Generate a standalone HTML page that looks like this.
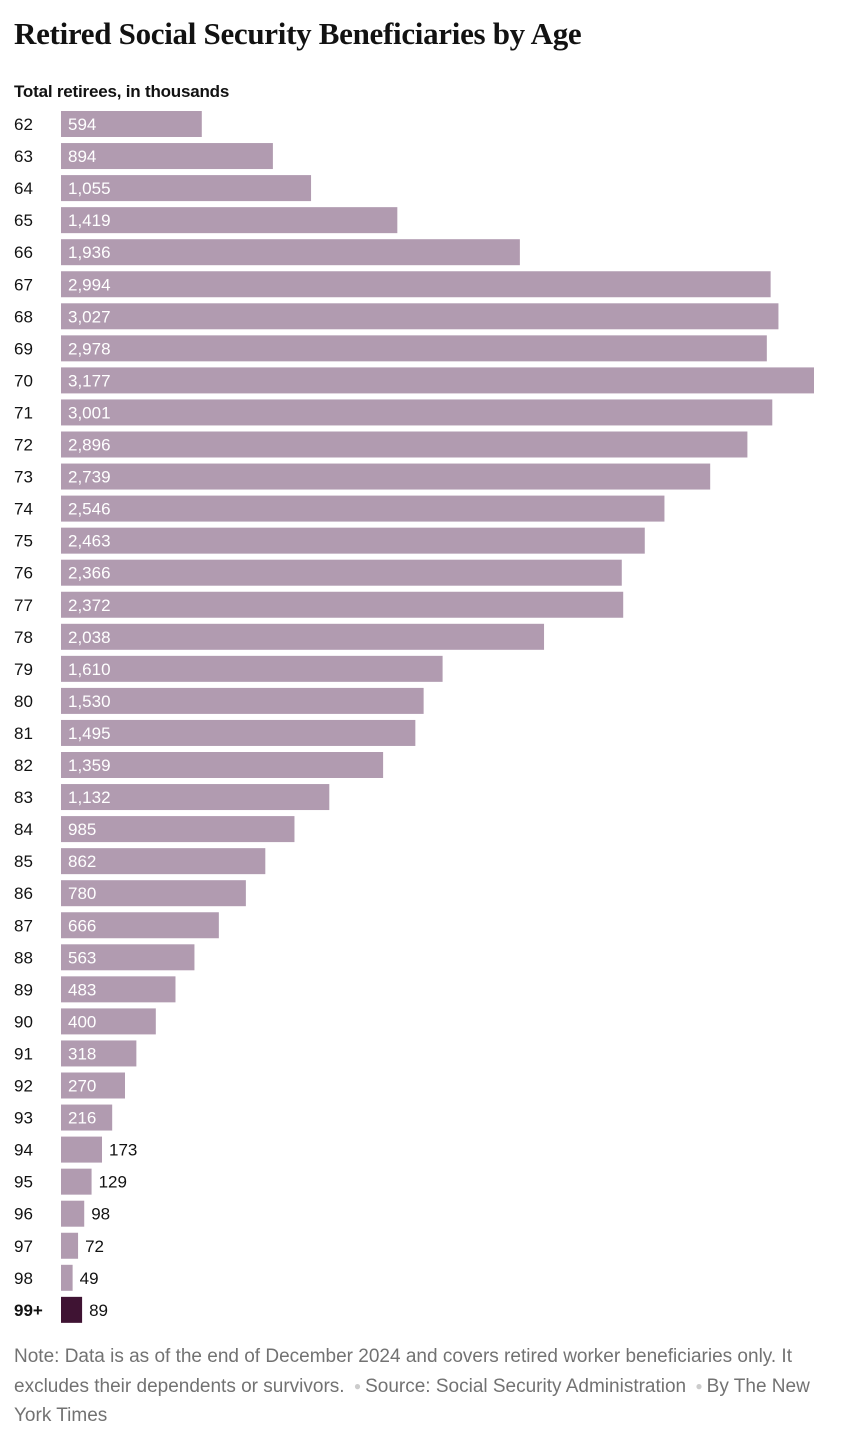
<!DOCTYPE html>
<html><head><meta charset="utf-8"><style>
body{margin:0;width:848px;height:1439px;background:#fff;overflow:hidden;font-family:"Liberation Sans",sans-serif;}
#title{position:absolute;left:14px;top:16px;font-family:"Liberation Serif",serif;font-weight:bold;font-size:31px;color:#121212;letter-spacing:-0.3px;white-space:nowrap;}
#sub{position:absolute;left:14px;top:82px;font-weight:bold;font-size:17px;color:#121212;letter-spacing:-0.2px;}
#note{position:absolute;left:14px;top:1342px;width:810px;font-size:19px;line-height:29.5px;color:#727272;}
.dot{color:#ccc;font-size:12px;vertical-align:middle;margin:0 4px;}
svg{position:absolute;left:0;top:0;}
</style></head><body>
<div id="title">Retired Social Security Beneficiaries by Age</div>
<div id="sub">Total retirees, in thousands</div>
<svg id="chart" width="848" height="1439"></svg>
<div id="note">Note: Data is as of the end of December 2024 and covers retired worker beneficiaries only. It excludes their dependents or survivors. <span class="dot">●</span>Source: Social Security Administration <span class="dot">●</span>By The New York Times</div>
<script>
const categories=["62","63","64","65","66","67","68","69","70","71","72","73","74","75","76","77","78","79","80","81","82","83","84","85","86","87","88","89","90","91","92","93","94","95","96","97","98","99+"];
const values=[594,894,1055,1419,1936,2994,3027,2978,3177,3001,2896,2739,2546,2463,2366,2372,2038,1610,1530,1495,1359,1132,985,862,780,666,563,483,400,318,270,216,173,129,98,72,49,89];
const NS="http://www.w3.org/2000/svg";
const svg=document.getElementById('chart');
const x0=61, xMax=Math.max(...values), xw=753;
const x=v=>v/xMax*xw;
const y=i=>111+i*32.05;
const bh=26;
const fmt=v=>v.toLocaleString('en-US');
categories.forEach((c,i)=>{
  const last=i===categories.length-1;
  const r=document.createElementNS(NS,'rect');
  r.setAttribute('x',x0);r.setAttribute('y',y(i));r.setAttribute('width',x(values[i]));r.setAttribute('height',bh);
  r.setAttribute('fill',last?'#3f1333':'#b19bb0');
  
  
  svg.appendChild(r);
  const l=document.createElementNS(NS,'text');
  l.setAttribute('x',14);l.setAttribute('y',y(i)+19);
  l.setAttribute('font-size','17');l.setAttribute('fill','#121212');
  if(last)l.setAttribute('font-weight','bold');
  l.textContent=c;
  
  
  svg.appendChild(l);
  const t=document.createElementNS(NS,'text');
  const inside=x(values[i])>45;
  t.setAttribute('x',inside?x0+7:x0+x(values[i])+7);
  t.setAttribute('y',y(i)+19);
  t.setAttribute('font-size','17');
  t.setAttribute('fill',inside?'#fff':'#121212');
  t.textContent=fmt(values[i]);
  
  
  svg.appendChild(t);
});
</script>
</body></html>
